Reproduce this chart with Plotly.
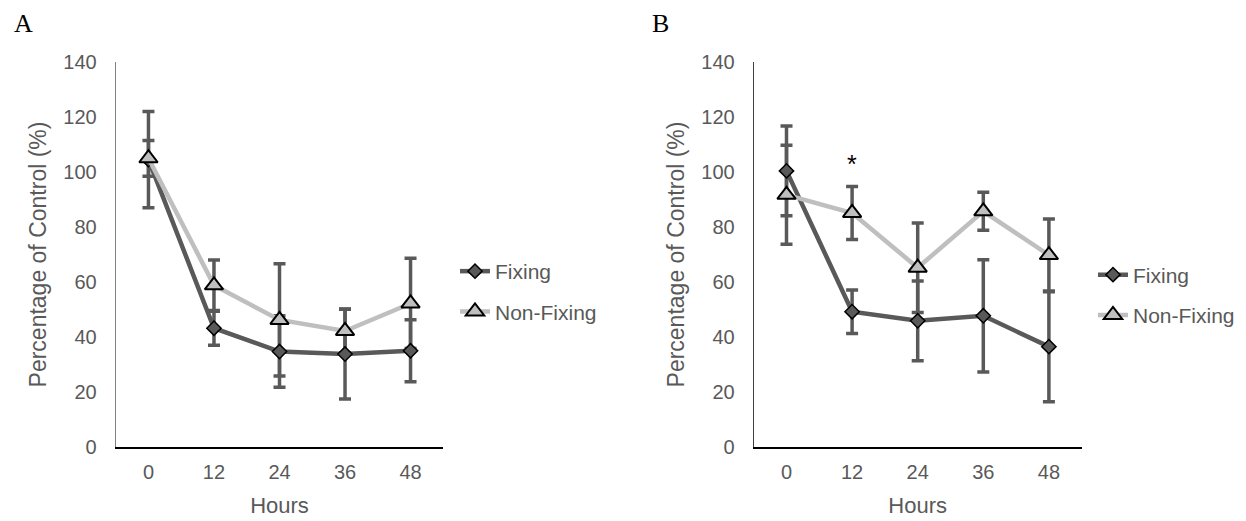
import plotly.graph_objects as go

# ---- data ----
hours = ["0", "12", "24", "36", "48"]

a_fixing = [104.5, 43.2, 34.7, 33.8, 35.0]
a_fixing_err = [17.5, 6.2, 13.0, 16.3, 11.3]
a_nonfixing = [105.0, 58.8, 46.2, 42.2, 52.2]
a_nonfixing_err = [6.5, 9.2, 20.4, 8.0, 16.4]

b_fixing = [100.4, 49.2, 45.9, 47.7, 36.5]
b_fixing_err = [16.3, 7.9, 14.5, 20.4, 20.0]
b_nonfixing = [91.7, 85.1, 65.2, 85.7, 69.8]
b_nonfixing_err = [18.0, 9.6, 16.3, 6.9, 13.1]

y_ticks = [0, 20, 40, 60, 80, 100, 120, 140]

significant_hour = "12"
significant_y = 105.6

DARK = "#595959"
LIGHT = "#BFBFBF"
TXT = "#595959"
FONT = "Liberation Sans, Arial, sans-serif"

W, H = 1246, 521
MT, MB = 62, 74

fig = go.Figure()


def add_panel(xa, ya, fix, fix_err, non, non_err, legend):
    # error bars first (drawn behind all markers)
    for vals, errs in ((fix, fix_err), (non, non_err)):
        fig.add_trace(go.Scatter(
            x=hours, y=vals, xaxis=xa, yaxis=ya, mode="markers",
            marker=dict(size=1, opacity=0), showlegend=False, hoverinfo="skip",
            error_y=dict(type="data", array=errs, visible=True,
                         color=DARK, thickness=3.5, width=6),
        ))
    fig.add_trace(go.Scatter(
        x=hours, y=fix, xaxis=xa, yaxis=ya, mode="lines+markers", name="Fixing",
        line=dict(color=DARK, width=4.5),
        marker=dict(symbol="diamond", size=11, color=DARK,
                    line=dict(color="black", width=1.5)),
        legend=legend, legendgroup=legend + "f",
    ))
    fig.add_trace(go.Scatter(
        x=hours, y=non, xaxis=xa, yaxis=ya, mode="lines+markers", name="Non-Fixing",
        line=dict(color=LIGHT, width=4.5),
        marker=dict(symbol="triangle-up", size=16, color=LIGHT,
                    line=dict(color="black", width=2)),
        legend=legend, legendgroup=legend + "n",
    ))


add_panel("x", "y", a_fixing, a_fixing_err, a_nonfixing, a_nonfixing_err, "legend")
add_panel("x2", "y2", b_fixing, b_fixing_err, b_nonfixing, b_nonfixing_err, "legend2")


def xax(domain):
    return dict(
        domain=domain, type="category", range=[-0.5, 4.5],
        showline=True, linecolor="black", linewidth=2,
        showgrid=False, zeroline=False,
        ticks="outside", ticklen=6, tickcolor="rgba(0,0,0,0)",
        tickfont=dict(family=FONT, size=20, color=TXT),
        title=dict(text="Hours", font=dict(family=FONT, size=22, color=TXT), standoff=16),
        automargin=False,
    )


def yax(anchor, linecolor):
    return dict(
        anchor=anchor, domain=[0, 1], range=[0, 140],
        tickmode="array", tickvals=y_ticks,
        showline=True, linecolor=linecolor, linewidth=1,
        showgrid=False, zeroline=False,
        ticks="outside", ticklen=14, tickcolor="rgba(0,0,0,0)",
        tickfont=dict(family=FONT, size=20, color=TXT),
        title=dict(text="Percentage of Control (%)",
                   font=dict(family=FONT, size=23, color=TXT), standoff=10),
        automargin=False,
    )


def py(px):
    return (H - MB - px) / (H - MT - MB)


legend_common = dict(
    font=dict(family=FONT, size=21, color=TXT),
    bgcolor="rgba(0,0,0,0)", borderwidth=0,
    xanchor="left", yanchor="top", tracegroupgap=10,
    itemclick=False, itemdoubleclick=False,
)

fig.update_layout(
    width=W, height=H,
    template="none",
    paper_bgcolor="white", plot_bgcolor="white",
    margin=dict(l=0, r=0, t=MT, b=MB),
    showlegend=True,
    xaxis=xax([115.7 / W, 443.3 / W]),
    yaxis=yax("x", "#808080"),
    xaxis2=xax([753.7 / W, 1081.7 / W]),
    yaxis2=yax("x2", "#404040"),
    legend=dict(x=455 / W, y=py(251), **legend_common),
    legend2=dict(x=1093 / W, y=py(254.5), **legend_common),
    annotations=[
        dict(text="A", xref="paper", yref="paper", x=12 / W, y=py(24),
             xanchor="left", yanchor="middle", showarrow=False,
             font=dict(family="Liberation Serif, Times New Roman, serif", size=26, color="black")),
        dict(text="B", xref="paper", yref="paper", x=650 / W, y=py(24),
             xanchor="left", yanchor="middle", showarrow=False,
             font=dict(family="Liberation Serif, Times New Roman, serif", size=26, color="black")),
        dict(text="*", xref="x2", yref="y2", x=hours.index(significant_hour), y=significant_y,
             yshift=-7, showarrow=False, font=dict(family=FONT, size=25, color="black")),
    ],
)

fig.write_html(
    "out.html",
    config={"displayModeBar": False},
    post_script="document.body.style.margin='0';document.body.style.padding='0';",
)
